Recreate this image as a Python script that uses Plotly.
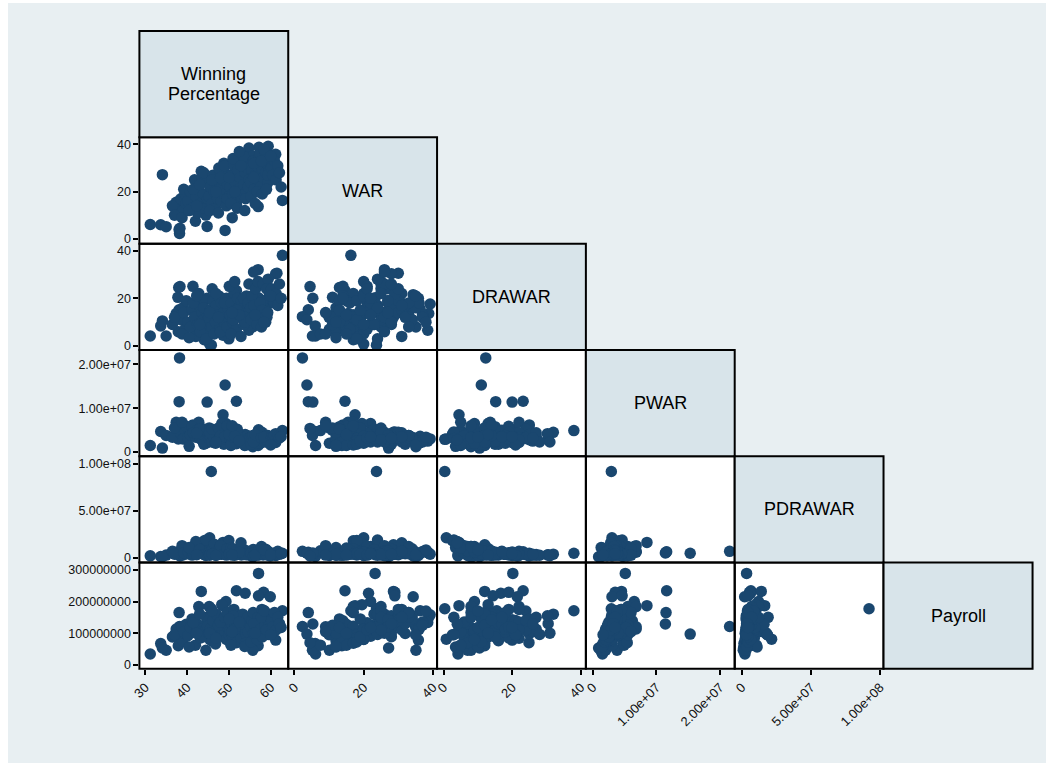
import plotly.graph_objects as go

# ---------------------------------------------------------------
# Team-season data: one entry per team-season in every list
# ---------------------------------------------------------------
labels = ["Winning<br>Percentage", "WAR", "DRAWAR", "PWAR", "PDRAWAR", "Payroll"]

win_pct = [
    31.2, 33.7, 35.0, 34.1, 38.1, 38.2, 42.0, 44.8, 49.1, 51.8, 45.8, 45.4, 44.1, 48.6,
    57.2, 59.4, 54.8, 58.5, 48.8, 43.4, 57.0, 62.8, 61.5, 57.0, 38.0, 41.4, 37.8, 37.4,
    57.1, 53.9, 58.3, 59.9, 57.1, 49.3, 48.3, 45.3, 42.8, 61.2, 55.7, 44.5, 37.9, 61.2, 38.3,
    36.5, 38.5, 39.0, 39.5, 37.0, 39.8, 38.8, 39.2,
    40.2, 40.8, 41.2, 41.8, 42.1, 42.5, 42.9, 43.2, 43.6, 43.9, 44.2, 44.6, 44.9, 41.5, 40.5, 43.0, 44.0, 42.3,
    45.2, 45.6, 45.9, 46.2, 46.5, 46.8, 47.0, 47.3, 47.6, 47.9, 48.2, 48.5, 48.8, 49.1, 49.4, 49.7, 50.0,
    45.4, 46.0, 47.5, 48.0, 49.0, 46.9, 49.6,
    50.3, 50.6, 50.9, 51.2, 51.5, 51.8, 52.1, 52.4, 52.7, 53.0, 53.3, 53.6, 53.9, 54.2, 54.5, 54.8,
    50.5, 51.0, 52.0, 53.5, 54.0, 50.1, 52.9, 54.6, 51.4, 53.8, 52.5, 50.8,
    55.2, 55.5, 55.8, 56.1, 56.4, 56.7, 57.0, 57.3, 57.6, 57.9, 58.2, 58.5, 58.8, 59.1, 59.4, 59.7,
    55.3, 56.0, 56.8, 57.5, 58.0, 58.7, 59.3, 55.9, 56.3, 57.8, 59.0, 58.4,
    60.2, 60.5, 60.9, 61.3, 61.7, 62.1, 60.0, 62.5,
]

war = [
    6.1, 6.0, 5.2, 27.2, 4.0, 2.3, 7.5, 5.3, 3.6, 14.6, 23.7, 20.0, 17.0, 17.5,
    38.8, 39.2, 38.5, 36.3, 32.0, 28.6, 13.7, 16.3, 30.0, 26.0, 13.0, 14.0, 11.0, 15.5,
    23.3, 21.4, 29.0, 34.3, 29.0, 22.0, 19.5, 25.0, 17.0, 28.0, 35.1, 10.1, 12.0, 35.8, 4.5,
    14, 17, 12, 19, 10, 15, 9, 21,
    16, 20, 13, 25, 18, 11, 22, 15, 26, 19, 13, 24, 17, 21, 12, 23, 28, 14,
    18, 22, 15, 27, 20, 13, 24, 17, 30, 21, 16, 25, 19, 28, 14, 23, 18,
    12, 25, 11, 26, 31, 20, 17,
    22, 27, 19, 31, 24, 16, 29, 21, 26, 18, 33, 23, 28, 20, 30, 25,
    15, 34, 13, 35, 17, 26, 31, 22, 20, 12, 37, 9,
    24, 29, 33, 21, 27, 31, 25, 35, 22, 30, 26, 34, 28, 32, 24, 29,
    18, 32, 20, 36, 19, 37, 27, 26, 15, 33, 21, 38,
    30, 27, 33, 25, 31, 28, 35, 22,
]

drawar = [
    4.2, 8.4, 4.2, 10.5, 15.2, 12.3, 5.0, 20.0, 11.0, 23.2, 0.35, 0.8, 2.6, 4.5,
    13.6, 17.6, 6.6, 15.5, 15.0, 12.0, 12.0, 38.0, 30.5, 32.0, 24.5, 25.0, 20.4, 13.6,
    20.2, 16.7, 19.0, 21.5, 14.4, 9.0, 13.0, 8.0, 22.0, 30.3, 8.0, 7.0, 6.0, 20.0, 24.9,
    9, 11, 16, 7, 12, 19, 5, 14,
    10, 8, 15, 12, 4, 9, 17, 6, 14, 11, 19, 3, 13, 18, 3.5, 9, 16, 21,
    12, 15, 8, 19, 5, 10, 17, 13, 21, 7, 18, 11, 14, 9, 20, 16, 3,
    14, 24, 12, 6, 18, 22, 8,
    13, 18, 10, 22, 15, 7, 20, 16, 12, 19, 14, 9, 17, 21, 14, 26,
    5, 11, 15, 20, 12, 25, 4, 18, 27, 10, 13, 14,
    16, 21, 12, 25, 24, 15, 27, 16, 13, 19, 26, 11, 10, 12, 28, 22,
    11, 17, 9, 18, 15, 12, 14, 31, 13, 8, 24, 10,
    24, 19, 18, 22, 17, 26, 21, 20,
]

pwar = [
    1.5e6, 4.7e6, 3.8e6, 0.9e6, 11.5e6, 21.5e6, 4.9e6, 11.4e6, 15.3e6, 11.6e6, 2.9e6, 3.0e6, 4.1e6, 8.5e6,
    2.9e6, 3.0e6, 2.5e6, 3.6e6, 1.8e6, 4.5e6, 1.5e6, 4.9e6, 3.0e6, 4.5e6, 5.5e6, 6.2e6, 5.0e6, 6.8e6,
    5.1e6, 4.0e6, 3.5e6, 3.0e6, 4.6e6, 6.5e6, 6.5e6, 5.5e6, 6.8e6, 4.2e6, 1.2e6, 2.0e6, 3.0e6, 2.2e6, 5.4e6,
    3.4e6, 4.2e6, 3.0e6, 3.1e6, 5.5e6, 5.9e6, 6.8e6, 3.1e6,
    3.3e6, 3.9e6, 5.8e6, 4.0e6, 3.4e6, 5.0e6, 3.9e6, 3.0e6, 2.8e6, 2.9e6, 5.2e6, 4.6e6, 4.8e6, 4.4e6, 1.3e6, 5.2e6, 1.8e6, 4.3e6,
    3.2e6, 3.4e6, 2.3e6, 3.7e6, 3.3e6, 2.0e6, 5.0e6, 2.8e6, 2.8e6, 4.3e6, 3.3e6, 2.9e6, 5.5e6, 2.2e6, 2.9e6, 3.4e6, 3.1e6,
    4.5e6, 5.2e6, 5.5e6, 3.7e6, 3.5e6, 2.2e6, 6.0e6,
    3.1e6, 3.3e6, 2.6e6, 4.4e6, 3.3e6, 1.9e6, 3.5e6, 2.9e6, 3.3e6, 2.5e6, 3.6e6, 3.0e6, 3.5e6, 2.8e6, 3.7e6, 3.1e6,
    1.5e6, 3.4e6, 5.2e6, 2.3e6, 1.6e6, 4.0e6, 2.8e6, 2.9e6, 3.6e6, 1.5e6, 2.6e6, 6.0e6,
    3.3e6, 3.4e6, 3.8e6, 2.8e6, 3.1e6, 2.3e6, 4.4e6, 2.6e6, 2.3e6, 4.5e6, 2.5e6, 3.1e6, 2.8e6, 3.8e6, 2.3e6, 3.3e6,
    1.8e6, 2.8e6, 2.0e6, 2.0e6, 2.5e6, 2.3e6, 3.8e6, 2.3e6, 4.0e6, 3.3e6, 3.3e6, 3.4e6,
    3.3e6, 3.0e6, 3.8e6, 2.8e6, 3.5e6, 3.2e6, 1.6e6, 3.5e6,
]

pdrawar = [
    2.2e6, 1.5e6, 3.0e6, 1.2e6, 5.9e6, 7.0e6, 7.5e6, 5.2e6, 4.9e6, 6.5e6, 92e6, 21.5e6, 18.3e6, 16.5e6,
    5.0e6, 4.0e6, 6.0e6, 5.0e6, 4.5e6, 14.0e6, 3.0e6, 4.9e6, 3.4e6, 4.0e6, 3.6e6, 5.0e6, 4.0e6, 6.0e6,
    3.4e6, 6.3e6, 5.5e6, 2.0e6, 4.5e6, 12.0e6, 10.0e6, 12.0e6, 7.0e6, 3.2e6, 1.0e6, 2.5e6, 5.5e6, 2.5e6, 2.0e6,
    7.0e6, 6.0e6, 3.2e6, 9.5e6, 4.0e6, 4.2e6, 13.0e6, 5.5e6,
    6.5e6, 11.0e6, 3.0e6, 7.5e6, 17.5e6, 5.0e6, 4.8e6, 9.0e6, 5.0e6, 6.2e6, 4.1e6, 19.0e6, 6.8e6, 4.8e6, 11.0e6, 9.0e6, 3.6e6, 3.3e6,
    5.8e6, 4.9e6, 8.2e6, 4.3e6, 14.5e6, 5.1e6, 6.5e6, 5.2e6, 3.9e6, 12.0e6, 3.8e6, 6.6e6, 7.0e6, 8.4e6, 3.0e6, 5.0e6, 18.5e6,
    2.9e6, 4.0e6, 4.8e6, 13.0e6, 4.6e6, 2.6e6, 9.8e6,
    5.8e6, 4.5e6, 6.5e6, 5.0e6, 5.2e6, 7.5e6, 4.6e6, 4.8e6, 7.0e6, 3.2e6, 6.5e6, 8.8e6, 5.1e6, 3.4e6, 7.2e6, 3.1e6,
    10.5e6, 9.8e6, 3.6e6, 6.2e6, 4.0e6, 4.4e6, 16.0e6, 4.6e6, 2.9e6, 3.5e6, 6.0e6, 3.0e6,
    5.5e6, 5.0e6, 9.0e6, 3.0e6, 3.8e6, 5.4e6, 3.5e6, 4.5e6, 5.0e6, 4.5e6, 3.2e6, 7.5e6, 9.3e6, 7.0e6, 2.8e6, 3.8e6,
    4.6e6, 5.3e6, 6.3e6, 4.5e6, 4.2e6, 6.8e6, 7.4e6, 2.4e6, 3.0e6, 12.0e6, 3.5e6, 8.5e6,
    4.7e6, 5.0e6, 4.5e6, 3.9e6, 7.0e6, 4.0e6, 3.3e6, 4.4e6,
]

payroll = [
    34e6, 67e6, 46e6, 53e6, 165e6, 121e6, 62e6, 129e6, 97e6, 234e6, 177e6, 81e6, 95e6, 187e6,
    150e6, 158e6, 134e6, 171e6, 99e6, 232e6, 60e6, 171e6, 130e6, 160e6, 113e6, 139e6, 95e6, 113e6,
    289e6, 226e6, 229e6, 215e6, 218e6, 200e6, 190e6, 184e6, 184e6, 155e6, 46e6, 46e6, 60e6, 78e6, 70e6,
    88e6, 112e6, 76e6, 98e6, 95e6, 128e6, 120e6, 105e6,
    92e6, 118e6, 145e6, 140e6, 101e6, 110e6, 125e6, 85e6, 112e6, 95e6, 108e6, 150e6, 122e6, 133e6, 56e6, 160e6, 89e6, 100e6,
    98e6, 115e6, 75e6, 140e6, 105e6, 66e6, 160e6, 88e6, 125e6, 130e6, 93e6, 112e6, 145e6, 102e6, 80e6, 118e6, 95e6,
    100e6, 170e6, 125e6, 135e6, 150e6, 84e6, 165e6,
    108e6, 130e6, 90e6, 175e6, 120e6, 70e6, 142e6, 100e6, 125e6, 85e6, 160e6, 110e6, 138e6, 95e6, 150e6, 118e6,
    62e6, 155e6, 118e6, 120e6, 68e6, 145e6, 128e6, 104e6, 112e6, 58e6, 135e6, 105e6,
    120e6, 140e6, 165e6, 98e6, 125e6, 110e6, 150e6, 130e6, 90e6, 175e6, 105e6, 145e6, 118e6, 160e6, 96e6, 135e6,
    72e6, 130e6, 80e6, 112e6, 88e6, 125e6, 142e6, 100e6, 100e6, 150e6, 110e6, 170e6,
    140e6, 120e6, 165e6, 110e6, 150e6, 130e6, 95e6, 118e6,
]

series = [win_pct, war, drawar, pwar, pdrawar, payroll]

# Axis ticks for each variable
tick_vals = [
    [30, 40, 50, 60],
    [0, 20, 40],
    [0, 20, 40],
    [0, 1e7, 2e7],
    [0, 5e7, 1e8],
    [0, 1e8, 2e8, 3e8],
]
tick_text = [
    ["30", "40", "50", "60"],
    ["0", "20", "40"],
    ["0", "20", "40"],
    ["0", "1.00e+07", "2.00e+07"],
    ["0", "5.00e+07", "1.00e+08"],
    ["0", "100000000", "200000000", "300000000"],
]

# ---------------------------------------------------------------
# Layout geometry (pixels)
# ---------------------------------------------------------------
W, H = 1050, 769
col_edges = [132.8, 283.2, 433.6, 584.0, 734.4, 884.8, 1035.4]
row_edges = [31.2, 137.9, 244.6, 351.4, 458.1, 564.8, 671.4]

x_ranges = [[28.6, 64.2], [-1.8, 41.2], [-1.9, 41.5], [-1.1e6, 2.23e7], [-5.2e6, 1.025e8], None]
y_ranges = [None, [-2.0, 43.0], [-1.7, 42.9], [-0.98e6, 2.33e7], [-5.0e6, 1.081e8], [-1.27e7, 3.231e8]]

BG = "#e8eff2"
DIAG = "#d8e4ea"
MARKER = "#1a476f"
FONT = "Liberation Sans, Arial, Helvetica, sans-serif"


def px(x):
    return x / W


def py(y):
    return 1 - y / H


fig = go.Figure()
shapes = [
    dict(type="rect", xref="paper", yref="paper", x0=px(0), x1=px(1049), y0=py(766), y1=py(3),
         fillcolor=BG, line=dict(width=0), layer="below"),
]
annotations = []
layout_axes = {}

k = 0
for r in range(1, 6):
    for c in range(r):
        k += 1
        xname = "xaxis" if k == 1 else f"xaxis{k}"
        yname = "yaxis" if k == 1 else f"yaxis{k}"
        xref = "x" if k == 1 else f"x{k}"
        yref = "y" if k == 1 else f"y{k}"

        xa = dict(
            domain=[px(col_edges[c]), px(col_edges[c + 1])],
            range=x_ranges[c], anchor=yref,
            showgrid=False, zeroline=False, showline=False, fixedrange=True,
        )
        ya = dict(
            domain=[py(row_edges[r + 1]), py(row_edges[r])],
            range=y_ranges[r], anchor=xref,
            showgrid=False, zeroline=False, showline=False, fixedrange=True,
        )
        if r == 5:
            xa.update(ticks="outside", ticklen=5, tickwidth=2, tickcolor="black",
                      tickvals=tick_vals[c], ticktext=tick_text[c], tickangle=-45,
                      tickfont=dict(family=FONT, size=13, color="#111111"))
        else:
            xa.update(showticklabels=False, ticks="")
        if c == 0:
            ya.update(ticks="outside", ticklen=5, tickwidth=2, tickcolor="black",
                      tickvals=tick_vals[r], ticktext=tick_text[r],
                      tickfont=dict(family=FONT, size=12.5, color="#111111"))
        else:
            ya.update(showticklabels=False, ticks="")
        layout_axes[xname] = xa
        layout_axes[yname] = ya

        fig.add_trace(go.Scatter(
            x=series[c], y=series[r], mode="markers",
            marker=dict(size=11.5, color=MARKER, line=dict(width=0)),
            xaxis=xref, yaxis=yref, showlegend=False, hoverinfo="skip",
        ))

        # white plot area and its frame
        shapes.append(dict(type="rect", xref="paper", yref="paper",
                           x0=px(col_edges[c]), x1=px(col_edges[c + 1]),
                           y0=py(row_edges[r + 1]), y1=py(row_edges[r]),
                           fillcolor="white", line=dict(width=0), layer="below"))
        shapes.append(dict(type="rect", xref="paper", yref="paper",
                           x0=px(col_edges[c]), x1=px(col_edges[c + 1]),
                           y0=py(row_edges[r + 1]), y1=py(row_edges[r]),
                           fillcolor="rgba(0,0,0,0)", line=dict(width=2, color="black"),
                           layer="above"))

# diagonal name boxes; multi-line names are set line by line
LINE_GAP = 20
for i, name in enumerate(labels):
    shapes.append(dict(type="rect", xref="paper", yref="paper",
                       x0=px(col_edges[i]), x1=px(col_edges[i + 1]),
                       y0=py(row_edges[i + 1]), y1=py(row_edges[i]),
                       fillcolor=DIAG, line=dict(width=2, color="black"), layer="above"))
    parts = name.split("<br>")
    cx = (col_edges[i] + col_edges[i + 1]) / 2
    cy = (row_edges[i] + row_edges[i + 1]) / 2
    for j, part in enumerate(parts):
        yline = cy + (j - (len(parts) - 1) / 2) * LINE_GAP
        annotations.append(dict(
            xref="paper", yref="paper", x=px(cx), y=py(yline),
            text=part, showarrow=False, xanchor="center", yanchor="middle",
            font=dict(family=FONT, size=18, color="black"),
        ))

fig.update_layout(
    width=W, height=H,
    margin=dict(l=0, r=0, t=0, b=0),
    paper_bgcolor="white",
    plot_bgcolor="rgba(0,0,0,0)",
    shapes=shapes,
    annotations=annotations,
    showlegend=False,
    **layout_axes,
)

fig.write_html("out.html")
